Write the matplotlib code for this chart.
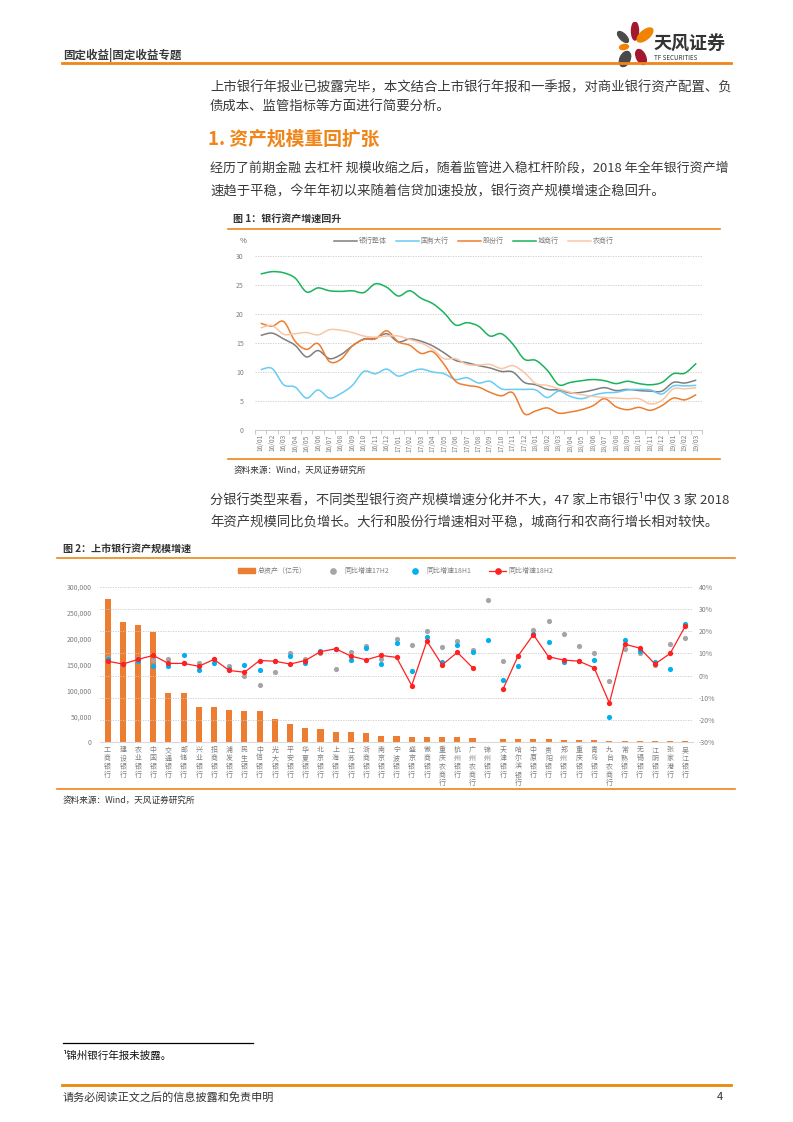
import numpy as np
import matplotlib
matplotlib.use("Agg")
import matplotlib.pyplot as plt
from matplotlib.lines import Line2D
from matplotlib.patches import Ellipse, PathPatch, Patch
from matplotlib.path import Path

plt.rcParams['font.family'] = ['Noto Sans CJK SC', 'DejaVu Sans']

# ---- 图1 数据：银行资产同比增速（%） ----
months = ['16/01', '16/02', '16/03', '16/04', '16/05', '16/06', '16/07', '16/08', '16/09', '16/10',
          '16/11', '16/12', '17/01', '17/02', '17/03', '17/04', '17/05', '17/06', '17/07', '17/08',
          '17/09', '17/10', '17/11', '17/12', '18/01', '18/02', '18/03', '18/04', '18/05', '18/06',
          '18/07', '18/08', '18/09', '18/10', '18/11', '18/12', '19/01', '19/02', '19/03']
overall = [16.3, 16.7, 15.7, 14.6, 12.6, 13.7, 12.3, 13.0, 14.5, 15.7, 15.8, 16.6, 15.2, 15.7, 15.3,
           14.5, 13.3, 12.0, 11.6, 11.1, 10.7, 10.1, 10.0, 8.2, 7.8, 7.0, 6.9, 6.4, 6.5, 6.9, 7.3,
           6.8, 7.0, 6.8, 6.7, 6.7, 8.2, 8.1, 8.6]
big_state = [10.4, 10.6, 7.8, 7.4, 5.5, 6.9, 5.5, 6.3, 7.7, 10.1, 9.7, 10.5, 9.3, 10.0, 10.5, 10.0,
             9.7, 8.7, 9.0, 8.1, 8.4, 7.1, 7.0, 7.0, 6.9, 5.6, 6.7, 5.8, 5.4, 6.0, 6.4, 6.5, 6.9,
             7.0, 6.9, 6.2, 7.6, 7.6, 7.7]
joint_stock = [18.4, 17.9, 18.7, 15.3, 13.9, 14.9, 11.8, 12.2, 14.5, 15.6, 15.7, 17.1, 15.2, 14.6,
               13.2, 13.5, 11.3, 8.4, 7.7, 7.4, 6.5, 5.9, 6.4, 2.8, 3.3, 3.8, 2.9, 3.1, 3.5, 4.2,
               5.4, 4.0, 3.5, 3.9, 3.4, 4.2, 5.5, 5.2, 6.1]
city = [26.9, 27.3, 27.1, 26.2, 23.8, 24.5, 24.0, 23.9, 24.0, 23.7, 25.2, 24.6, 23.1, 24.0, 22.7,
        21.8, 20.2, 18.1, 18.5, 17.9, 16.2, 16.6, 14.8, 12.2, 12.0, 10.3, 7.8, 8.2, 8.5, 8.7, 8.5,
        8.0, 8.4, 8.0, 7.8, 8.2, 9.7, 9.8, 11.5]
rural = [17.6, 18.0, 16.5, 16.6, 16.8, 16.4, 17.3, 17.2, 16.8, 16.2, 16.0, 16.2, 16.2, 15.6, 15.0,
         13.9, 12.3, 12.3, 11.3, 11.2, 11.3, 10.6, 11.1, 9.9, 8.0, 7.7, 7.1, 6.5, 6.1, 5.8, 5.6,
         5.5, 5.4, 5.4, 4.5, 5.1, 7.1, 7.1, 7.3]
series1_names = ['银行整体', '国有大行', '股份行', '城商行', '农商行']
series1_colors = ['#7F7F7F', '#66CCF5', '#ED7D31', '#19B35A', '#F8C6A6']

# ---- 图2 数据：上市银行总资产与增速 ----
banks = ['工商银行', '建设银行', '农业银行', '中国银行', '交通银行', '邮储银行', '兴业银行', '招商银行',
         '浦发银行', '民生银行', '中信银行', '光大银行', '平安银行', '华夏银行', '北京银行', '上海银行',
         '江苏银行', '浙商银行', '南京银行', '宁波银行', '盛京银行', '徽商银行', '重庆农商行', '杭州银行',
         '广州农商行', '锦州银行', '天津银行', '哈尔滨银行', '中原银行', '贵阳银行', '郑州银行', '重庆银行',
         '青岛银行', '九台农商行', '常熟银行', '无锡银行', '江阴银行', '张家港行', '吴江银行']
assets = [276995, 232227, 226095, 212673, 95312, 95163, 67117, 67457, 62896, 59948, 60667, 43573,
          34185, 26806, 25729, 20278, 19259, 16467, 12433, 11164, 9854, 9737, 9506, 9211, 8153,
          np.nan, 6594, 6104, 6125, 5033, 4662, 4503, 3178, 1800, 1683, 1566, 1302, 1173, 1171]
g17h2 = [8.0, 5.3, 8.0, 7.1, 7.4, 5.6, 5.5, 7.3, 4.5, 0.0, -4.2, 1.7, 10.0, 7.3, 10.0, 2.9, 10.8,
         13.3, 7.3, 16.5, 13.8, 20.2, 12.7, 15.6, 11.5, 34.2, 6.7, 8.9, 20.6, 24.7, 18.9, 13.2,
         10.0, -2.3, 12.1, 10.2, 4.8, 14.4, 17.1]
g18h1 = [7.3, 5.3, 6.7, 4.4, 4.2, 9.1, 2.7, 5.5, 2.9, 5.0, 2.7, 6.4, 8.9, 5.9, 10.9, 12.1, 7.0,
         12.4, 5.3, 14.5, 2.0, 17.6, 6.1, 13.6, 10.8, 16.2, -2.0, 4.5, 18.9, 15.2, 6.2, 6.7, 7.1,
         -18.9, 16.2, 11.1, 6.1, 3.0, 23.3]
g18h2 = [6.5, 5.2, 7.3, 9.1, 5.5, 5.5, 4.2, 7.3, 2.3, 1.5, 6.8, 6.5, 5.2, 6.8, 10.8, 12.1, 8.8,
         7.1, 9.1, 8.2, -4.5, 15.6, 4.8, 10.5, 3.6, np.nan, -6.2, 8.9, 18.5, 8.5, 7.0, 6.5, 3.5,
         -12.4, 14.2, 12.4, 5.2, 10.0, 22.4]

W, H = 793, 1122
ORANGE = '#F08519'
TXT = '#3A3A3A'

fig = plt.figure(figsize=(W / 100, H / 100), dpi=100)


def fx(x):
    return x / W


def fy(y):
    return 1 - y / H


def txt(x, y, s, **kw):
    kw.setdefault('va', 'center')
    kw.setdefault('color', TXT)
    fig.text(fx(x), fy(y), s, **kw)


def hline(x0, x1, y, color=ORANGE, lw=1.5):
    fig.add_artist(Line2D([fx(x0), fx(x1)], [fy(y), fy(y)], color=color, lw=lw))


def smooth_path(xs, ys):
    # 平滑曲线（仅用于绘制，Catmull-Rom 转 Bezier）
    pts = np.column_stack([xs, ys]).astype(float)
    verts = [pts[0]]
    codes = [Path.MOVETO]
    n = len(pts)
    for i in range(n - 1):
        p0 = pts[i - 1] if i > 0 else pts[i]
        p1, p2 = pts[i], pts[i + 1]
        p3 = pts[i + 2] if i + 2 < n else pts[i + 1]
        verts += [p1 + (p2 - p0) / 6, p2 - (p3 - p1) / 6, p2]
        codes += [Path.CURVE4] * 3
    return Path(verts, codes)


# ---- 页眉 ----
txt(63, 55, '固定收益|固定收益专题', fontsize=8.3, fontweight='bold')
hline(62, 731, 63, lw=2)

logo = fig.add_axes([fx(614), fy(70), fx(40), 48 / H])
logo.set_xlim(-1, 1)
logo.set_ylim(-1.2, 1.2)
logo.axis('off')
petals = [(0.05, 0.75, 0.35, 0.9, 0, '#A3182F'),
          (0.55, 0.55, 0.45, 0.95, -50, '#F08300'),
          (-0.55, 0.45, 0.32, 0.7, 45, '#4A4A4A'),
          (-0.5, -0.05, 0.45, 0.25, 10, '#F08300'),
          (-0.45, -0.65, 0.5, 0.8, -25, '#4A4A4A'),
          (0.35, -0.55, 0.45, 0.8, 25, '#A3182F')]
for px_, py_, w_, h_, a_, c_ in petals:
    logo.add_patch(Ellipse((px_, py_), w_, h_, angle=a_, color=c_))
txt(653, 44, '天风证券', fontsize=13, fontweight='bold', color='#333333')
txt(654, 58, 'TF SECURITIES', fontsize=4.5, color='#333333')

# ---- 正文 ----
body = 9.6
txt(210, 87, '上市银行年报业已披露完毕，本文结合上市银行年报和一季报，对商业银行资产配置、负', fontsize=body)
txt(210, 107, '债成本、监管指标等方面进行简要分析。', fontsize=body)
txt(208, 139, '1. 资产规模重回扩张', fontsize=13.5, fontweight='bold', color='#F08519')
txt(210, 168, '经历了前期金融 去杠杆 规模收缩之后，随着监管进入稳杠杆阶段，2018 年全年银行资产增', fontsize=9.35)
txt(210, 191, '速趋于平稳，今年年初以来随着信贷加速投放，银行资产规模增速企稳回升。', fontsize=body)

# ---- 图1 ----
txt(233, 219, '图 1：银行资产增速回升', fontsize=7.2, fontweight='bold', color='#333333')
hline(228, 720, 229, lw=1.2)
txt(234, 470, '资料来源：Wind，天风证券研究所', fontsize=6.2, color='#333333')
hline(228, 720, 459, lw=1.2)

ax1 = fig.add_axes([fx(255), fy(430), 447 / W, 174 / H])
x1 = np.arange(len(months))
handles1 = []
for vals, name, col in zip([overall, big_state, joint_stock, city, rural], series1_names, series1_colors):
    ax1.add_patch(PathPatch(smooth_path(x1, vals), fill=False, edgecolor=col, lw=1.1, zorder=3))
    handles1.append(Line2D([], [], color=col, lw=1.1))
ax1.set_xlim(-0.5, len(months) - 0.5)
ax1.set_ylim(0, 30)
ax1.set_yticks(range(0, 31, 5))
ax1.grid(axis='y', linestyle=(0, (1.5, 1.5)), color='#C8C8C8', lw=0.6)
ax1.set_axisbelow(True)
ax1.set_xticks(x1)
ax1.set_xticklabels(months, rotation=90, fontsize=4.8, color='#7F7F7F')
ax1.set_xticks(np.arange(-0.5, len(months), 1), minor=True)
ax1.tick_params(axis='x', which='major', length=0, pad=3)
ax1.tick_params(axis='x', which='minor', length=3, color='#BFBFBF', width=0.6)
ax1.tick_params(axis='y', length=0, labelsize=5, labelcolor='#7F7F7F', pad=8)
for s in ['top', 'right', 'left']:
    ax1.spines[s].set_visible(False)
ax1.spines['bottom'].set_color('#BFBFBF')
ax1.spines['bottom'].set_linewidth(0.6)
txt(243, 241, '%', fontsize=5.5, color='#595959', ha='center')
fig.legend(handles1, series1_names, loc='center', bbox_to_anchor=(fx(474), fy(241)), ncol=5,
           frameon=False, fontsize=5, handlelength=3.2, handletextpad=0.3, columnspacing=1.4,
           labelcolor='#7F7F7F')

# ---- 第二段 ----
txt(210, 500, '分银行类型来看，不同类型银行资产规模增速分化并不大，47 家上市银行¹中仅 3 家 2018', fontsize=9.5)
txt(210, 522, '年资产规模同比负增长。大行和股份行增速相对平稳，城商行和农商行增长相对较快。', fontsize=body)

# ---- 图2 ----
txt(63, 549, '图 2：上市银行资产规模增速', fontsize=7.2, fontweight='bold', color='#333333')
hline(57, 735, 558, lw=1.2)
hline(57, 735, 789, lw=1.2)
txt(63, 800, '资料来源：Wind，天风证券研究所', fontsize=6.2, color='#333333')

ax2 = fig.add_axes([fx(100), fy(742), 593 / W, 155 / H])
x2 = np.arange(len(banks))
ax2.bar(x2, assets, width=0.4, color='#ED7D31', zorder=2)
ax2.set_xlim(-0.5, len(banks) - 0.5)
ax2.set_ylim(0, 300000)
ax2.set_yticks(range(0, 300001, 50000))
ax2.set_yticklabels(['0' if v == 0 else f'{v:,}' for v in range(0, 300001, 50000)])
ax2.tick_params(axis='y', length=0, labelsize=5, labelcolor='#7F7F7F', pad=6)
ax2.set_xticks(x2)
ax2.set_xticklabels(['\n'.join(b) for b in banks], fontsize=5, color='#7F7F7F', linespacing=1.05, va='top')
ax2.tick_params(axis='x', length=0, pad=3)
for s in ['top', 'right', 'left']:
    ax2.spines[s].set_visible(False)
ax2.spines['bottom'].set_color('#D9D9D9')
ax2.spines['bottom'].set_linewidth(0.8)

ax3 = ax2.twinx()
ax3.set_ylim(-30, 40)
ax3.set_yticks(range(-30, 41, 10))
ax3.set_yticklabels([f'{v}%' for v in range(-30, 41, 10)])
ax3.tick_params(axis='y', length=0, labelsize=5, labelcolor='#7F7F7F', pad=4)
ax3.grid(axis='y', linestyle=(0, (1.5, 1.5)), color='#C8C8C8', lw=0.6)
for s in ['top', 'right', 'left', 'bottom']:
    ax3.spines[s].set_visible(False)
ax3.scatter(x2, g17h2, s=14, color='#A5A5A5', zorder=3, linewidths=0)
ax3.scatter(x2, g18h1, s=14, color='#00B0F0', zorder=4, linewidths=0)
ax3.plot(x2, g18h2, color='#FF2020', lw=0.9, marker='o', markersize=3.8, markeredgewidth=0, zorder=5)

handles2 = [Patch(color='#ED7D31'),
            Line2D([], [], ls='none', marker='o', color='#A5A5A5', markersize=3.8),
            Line2D([], [], ls='none', marker='o', color='#00B0F0', markersize=3.8),
            Line2D([], [], color='#FF2020', lw=0.9, marker='o', markersize=3.8)]
fig.legend(handles2, ['总资产（亿元）', '同比增速17H2', '同比增速18H1', '同比增速18H2'], loc='center',
           bbox_to_anchor=(fx(396), fy(571)), ncol=4, frameon=False, fontsize=5, handlelength=2.4,
           handleheight=0.6, handletextpad=0.4, columnspacing=2.6, labelcolor='#7F7F7F')

# ---- 脚注与页脚 ----
hline(63, 253, 1043, color='black', lw=0.9)
txt(63, 1056, '¹锦州银行年报未披露。', fontsize=7.6, color='#111111')
hline(62, 731, 1085, color='#E8890C', lw=2)
txt(63, 1097, '请务必阅读正文之后的信息披露和免责申明', fontsize=8, color='#333333')
txt(723, 1097, '4', fontsize=8, color='#333333', ha='right')

fig.savefig('out.png', dpi=100)
